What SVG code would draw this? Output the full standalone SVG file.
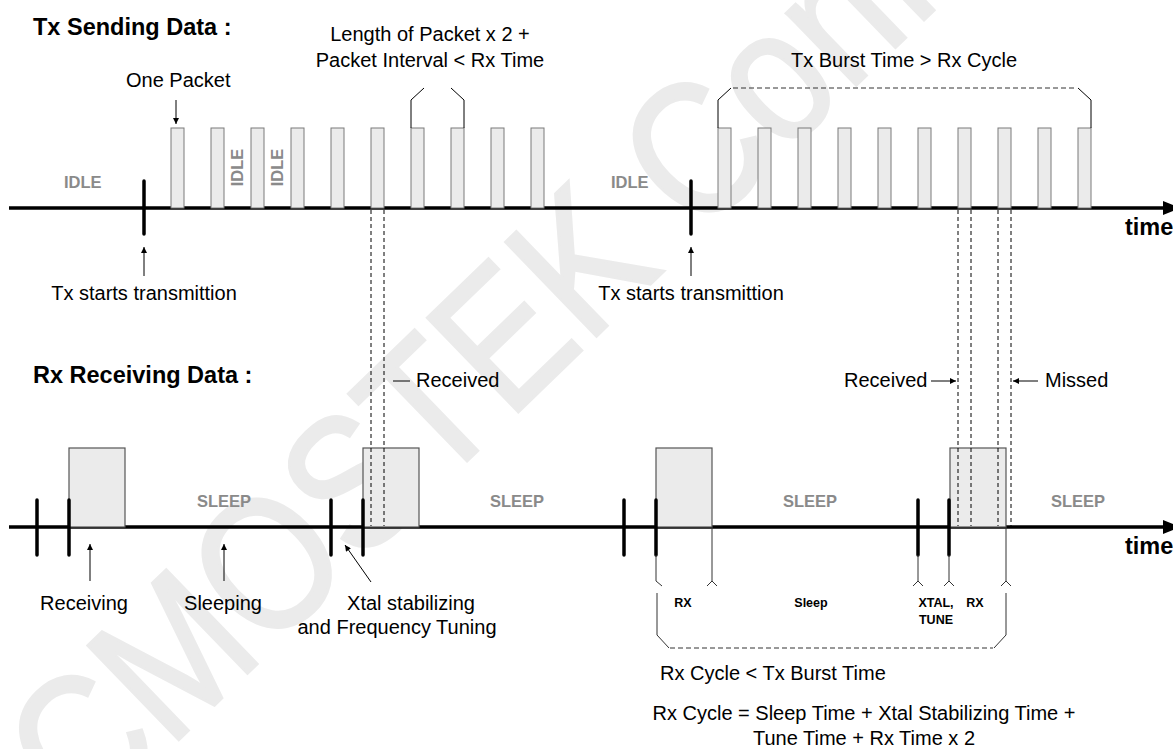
<svg xmlns="http://www.w3.org/2000/svg" width="1173" height="749" viewBox="0 0 1173 749">
<style>
.t{font-family:"Liberation Sans",Arial,sans-serif;font-size:20px;fill:#000}
.h{font-family:"Liberation Sans",Arial,sans-serif;font-size:23.5px;font-weight:bold;fill:#000}
.g{font-family:"Liberation Sans",Arial,sans-serif;font-size:16.5px;font-weight:bold;fill:#8a8a8a}
.s{font-family:"Liberation Sans",Arial,sans-serif;font-size:12.5px;font-weight:bold;fill:#000}
.wm{font-family:"Liberation Sans",Arial,sans-serif;font-size:190px;fill:#ebebeb;stroke:#ebebeb;stroke-width:3}
.pk{fill:#ebebeb;stroke:#7a7a7a;stroke-width:1}
.bx{fill:#ebebeb;stroke:#555;stroke-width:1.2}
.ax{stroke:#000;stroke-width:3.5;fill:none}
.tk{stroke:#000;stroke-width:3.5;stroke-linecap:round;fill:none}
.dv{stroke:#000;stroke-width:1;stroke-dasharray:4,3;fill:none}
.ln{stroke:#000;stroke-width:1;fill:none}
.br{stroke:#333;stroke-width:1;fill:none}
.bd{stroke:#333;stroke-width:1;stroke-dasharray:5,3;fill:none}
.ar{stroke:#000;stroke-width:1;fill:none;marker-end:url(#ah)}
</style>
<defs>
<marker id="ah" viewBox="0 0 10 10" refX="10" refY="5" markerWidth="8" markerHeight="6" markerUnits="userSpaceOnUse" orient="auto"><path d="M0,0 L10,5 L0,10 z" fill="#000"/></marker>
</defs>
<rect width="1173" height="749" fill="#fff"/>
<g id="watermark">
<text class="wm" transform="translate(84,831) rotate(-44) scale(0.86,1)">CMOSTEK Confidential</text>
</g>
<g id="titles">
<text class="h" x="33" y="35">Tx Sending Data :</text>
<text class="h" x="33" y="383">Rx Receiving Data :</text>
</g>
<g id="tx-axis">
<line class="ax" x1="9" y1="208" x2="1166" y2="208"/>
<polygon points="1163,201 1180,208 1163,215" fill="#000"/>
<text class="h" x="1125" y="235">time</text>
<line class="tk" x1="144" y1="181" x2="144" y2="234"/>
<line class="tk" x1="691" y1="181" x2="691" y2="234"/>
<text class="g" x="64" y="188">IDLE</text>
<text class="g" x="611" y="188">IDLE</text>
</g>
<g id="tx-packets">
<rect class="pk" x="171" y="128" width="13" height="80"/>
<rect class="pk" x="211" y="128" width="13" height="80"/>
<rect class="pk" x="251" y="128" width="13" height="80"/>
<rect class="pk" x="291" y="128" width="13" height="80"/>
<rect class="pk" x="331" y="128" width="13" height="80"/>
<rect class="pk" x="371" y="128" width="13" height="80"/>
<rect class="pk" x="411" y="128" width="13" height="80"/>
<rect class="pk" x="451" y="128" width="13" height="80"/>
<rect class="pk" x="491" y="128" width="13" height="80"/>
<rect class="pk" x="531" y="128" width="13" height="80"/>
<rect class="pk" x="718" y="128" width="13" height="80"/>
<rect class="pk" x="758" y="128" width="13" height="80"/>
<rect class="pk" x="798" y="128" width="13" height="80"/>
<rect class="pk" x="838" y="128" width="13" height="80"/>
<rect class="pk" x="878" y="128" width="13" height="80"/>
<rect class="pk" x="918" y="128" width="13" height="80"/>
<rect class="pk" x="958" y="128" width="13" height="80"/>
<rect class="pk" x="998" y="128" width="13" height="80"/>
<rect class="pk" x="1038" y="128" width="13" height="80"/>
<rect class="pk" x="1078" y="128" width="13" height="80"/>
<text class="g" transform="translate(243,167.5) rotate(-90)" text-anchor="middle">IDLE</text>
<text class="g" transform="translate(283,167.5) rotate(-90)" text-anchor="middle">IDLE</text>
</g>
<g id="tx-labels">
<text class="t" x="126" y="87">One Packet</text>
<text class="t" x="430" y="41" text-anchor="middle">Length of Packet x 2 +</text>
<text class="t" x="430" y="67" text-anchor="middle">Packet Interval &lt; Rx Time</text>
<text class="t" x="904" y="67" text-anchor="middle">Tx Burst Time &gt; Rx Cycle</text>
<text class="t" x="144" y="300" text-anchor="middle">Tx starts transmittion</text>
<text class="t" x="691" y="300" text-anchor="middle">Tx starts transmittion</text>
</g>
<g id="rx-axis">
<line class="ax" x1="9" y1="527" x2="1166" y2="527"/>
<polygon points="1163,520 1180,527 1163,534" fill="#000"/>
<text class="h" x="1125" y="554">time</text>
<text class="g" x="197" y="507">SLEEP</text>
<text class="g" x="490" y="507">SLEEP</text>
<text class="g" x="783" y="507">SLEEP</text>
<text class="g" x="1051" y="507">SLEEP</text>
</g>
<g id="rx-boxes">
<rect class="bx" x="69" y="448" width="56" height="79"/>
<rect class="bx" x="363" y="448" width="56" height="79"/>
<rect class="bx" x="656" y="448" width="56" height="79"/>
<rect class="bx" x="950" y="448" width="56" height="79"/>
</g>
<g id="rx-ticks">
<line class="tk" x1="37" y1="500" x2="37" y2="555"/>
<line class="tk" x1="69" y1="500" x2="69" y2="555"/>
<line class="tk" x1="331" y1="500" x2="331" y2="555"/>
<line class="tk" x1="363" y1="500" x2="363" y2="555"/>
<line class="tk" x1="624" y1="500" x2="624" y2="555"/>
<line class="tk" x1="656" y1="500" x2="656" y2="555"/>
<line class="tk" x1="918" y1="500" x2="918" y2="555"/>
<line class="tk" x1="949" y1="500" x2="949" y2="555"/>
</g>
<g id="connectors">
<line class="ar" x1="176" y1="100" x2="176" y2="124"/>
<polyline class="ln" points="411,128 411,100 424,88"/>
<polyline class="ln" points="464,128 464,100 451,88"/>
<polyline class="ln" points="718,128 718,100 731,88"/>
<line class="bd" x1="733" y1="88" x2="1076" y2="88"/>
<polyline class="ln" points="1091,128 1091,100 1078,88"/>
<line class="ar" x1="144" y1="276" x2="144" y2="247"/>
<line class="ar" x1="691" y1="276" x2="691" y2="247"/>
<line class="dv" x1="371" y1="210" x2="371" y2="526"/>
<line class="dv" x1="384" y1="210" x2="384" y2="526"/>
<line class="dv" x1="958" y1="210" x2="958" y2="526"/>
<line class="dv" x1="971" y1="210" x2="971" y2="526"/>
<line class="dv" x1="998" y1="210" x2="998" y2="526"/>
<line class="dv" x1="1011" y1="210" x2="1011" y2="526"/>
<line class="ln" x1="393" y1="381" x2="410" y2="381"/>
<line class="ar" x1="931" y1="381" x2="956" y2="381"/>
<line class="ar" x1="1038" y1="381" x2="1013" y2="381"/>
<line class="ar" x1="90" y1="581" x2="90" y2="544"/>
<line class="ar" x1="224" y1="581" x2="224" y2="544"/>
<line class="ar" x1="371" y1="582" x2="345" y2="545"/>
<polyline class="br" points="656,555 656,581 662,586"/>
<polyline class="br" points="712,527 712,581"/>
<polyline class="br" points="707,586 712,581 717,586"/>
<polyline class="br" points="918,555 918,581"/>
<polyline class="br" points="913,586 918,581 923,586"/>
<polyline class="br" points="949,555 949,581"/>
<polyline class="br" points="944,586 949,581 954,586"/>
<polyline class="br" points="1006,527 1006,581"/>
<polyline class="br" points="1001,586 1006,581 1011,586"/>
<polyline class="br" points="657,593 657,635 669,648"/>
<line class="bd" x1="670" y1="648" x2="993" y2="648"/>
<polyline class="br" points="994,648 1006,635 1006,593"/>
</g>
<g id="rx-labels">
<text class="t" x="393" y="387" dx="23">Received</text>
<text class="t" x="844" y="387">Received</text>
<text class="t" x="1045" y="387">Missed</text>
<text class="t" x="84" y="610" text-anchor="middle">Receiving</text>
<text class="t" x="223" y="610" text-anchor="middle">Sleeping</text>
<text class="t" x="411" y="610" text-anchor="middle">Xtal stabilizing</text>
<text class="t" x="397" y="634" text-anchor="middle">and Frequency Tuning</text>
<text class="s" x="683" y="607" text-anchor="middle">RX</text>
<text class="s" x="811" y="607" text-anchor="middle">Sleep</text>
<text class="s" x="936" y="607" text-anchor="middle">XTAL,</text>
<text class="s" x="936" y="624" text-anchor="middle">TUNE</text>
<text class="s" x="975" y="607" text-anchor="middle">RX</text>
<text class="t" x="660" y="680">Rx Cycle &lt; Tx Burst Time</text>
<text class="t" x="864" y="720" text-anchor="middle">Rx Cycle = Sleep Time + Xtal Stabilizing Time +</text>
<text class="t" x="864" y="745" text-anchor="middle">Tune Time + Rx Time x 2</text>
</g>
</svg>
